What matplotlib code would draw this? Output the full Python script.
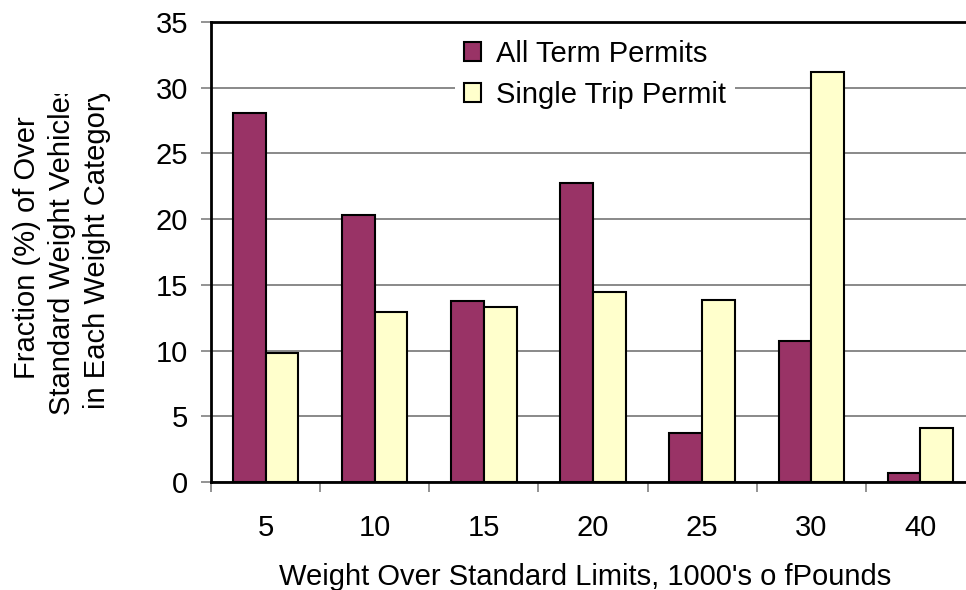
import matplotlib
matplotlib.use("Agg")
import matplotlib.pyplot as plt
import numpy as np
from matplotlib.transforms import Bbox

plt.rcParams['font.family'] = ['Liberation Sans', 'DejaVu Sans']

categories = ["5", "10", "15", "20", "25", "30", "40"]
all_term = [28.05, 20.3, 13.8, 22.75, 3.7, 10.75, 0.65]
single_trip = [9.85, 12.9, 13.35, 14.45, 13.85, 31.2, 4.1]
series_names = ["All Term Permits", "Single Trip Permit"]
yticks = [0, 5, 10, 15, 20, 25, 30, 35]

W, H = 966, 590
fig = plt.figure(figsize=(W / 100, H / 100), dpi=100)
ax = fig.add_axes([211 / W, (H - 482) / H, 764 / W, 460 / H])

x = np.arange(len(categories))
bw = 0.3
ax.bar(x - bw / 2, all_term, bw, color="#993366", edgecolor="black", linewidth=1.5,
       label=series_names[0], zorder=3)
ax.bar(x + bw / 2, single_trip, bw, color="#FFFFCC", edgecolor="black", linewidth=1.5,
       label=series_names[1], zorder=3)

ax.set_xlim(-0.5, len(categories) - 0.5)
ax.set_ylim(0, 35)
ax.set_yticks(yticks)
ax.set_yticklabels([str(v) for v in yticks], fontsize=21)
ax.yaxis.grid(True, color="#808080", linewidth=1.3, zorder=0)
ax.set_axisbelow(True)

ax.set_xticks(x)
ax.set_xticklabels(categories, fontsize=21)
ax.set_xticks(np.arange(len(categories) + 1) - 0.5, minor=True)
ax.tick_params(axis="x", which="major", length=0, pad=23)
ax.tick_params(axis="x", which="minor", length=7, width=1.2, color="#808080", direction="out")
ax.tick_params(axis="y", length=7, width=1.2, color="#808080", direction="out", pad=9.5)

for s in ["left", "bottom", "top"]:
    ax.spines[s].set_linewidth(2)
    ax.spines[s].set_color("black")
ax.spines["right"].set_visible(False)

ax.set_xlabel("Weight Over Standard Limits, 1000's o fPounds", fontsize=21)
ax.xaxis.set_label_coords((585 - 211) / 764, -(563 - 482) / 460, transform=ax.transAxes)
ax.xaxis.label.set_va("top")

yl = fig.text(62 / W, 1 - 248 / H,
              "Fraction (%) of Over\nStandard Weight Vehicles\nin Each Weight Category",
              rotation=90, ha="center", va="center", multialignment="center",
              fontsize=21, linespacing=1.32)
yl.set_clip_on(True)
yl.set_clip_box(Bbox.from_extents(0, 0, 200, H - 94))

leg = ax.legend(loc="upper left", bbox_to_anchor=(455 / W, 1 - 31 / H),
                bbox_transform=fig.transFigure, fontsize=21, frameon=True,
                fancybox=False, framealpha=1, edgecolor="none", facecolor="white",
                handlelength=0.6, handleheight=0.6, handletextpad=0.5,
                labelspacing=0.45, borderpad=0.3, borderaxespad=0)
leg.set_zorder(5)

fig.savefig("out.png", dpi=100)
